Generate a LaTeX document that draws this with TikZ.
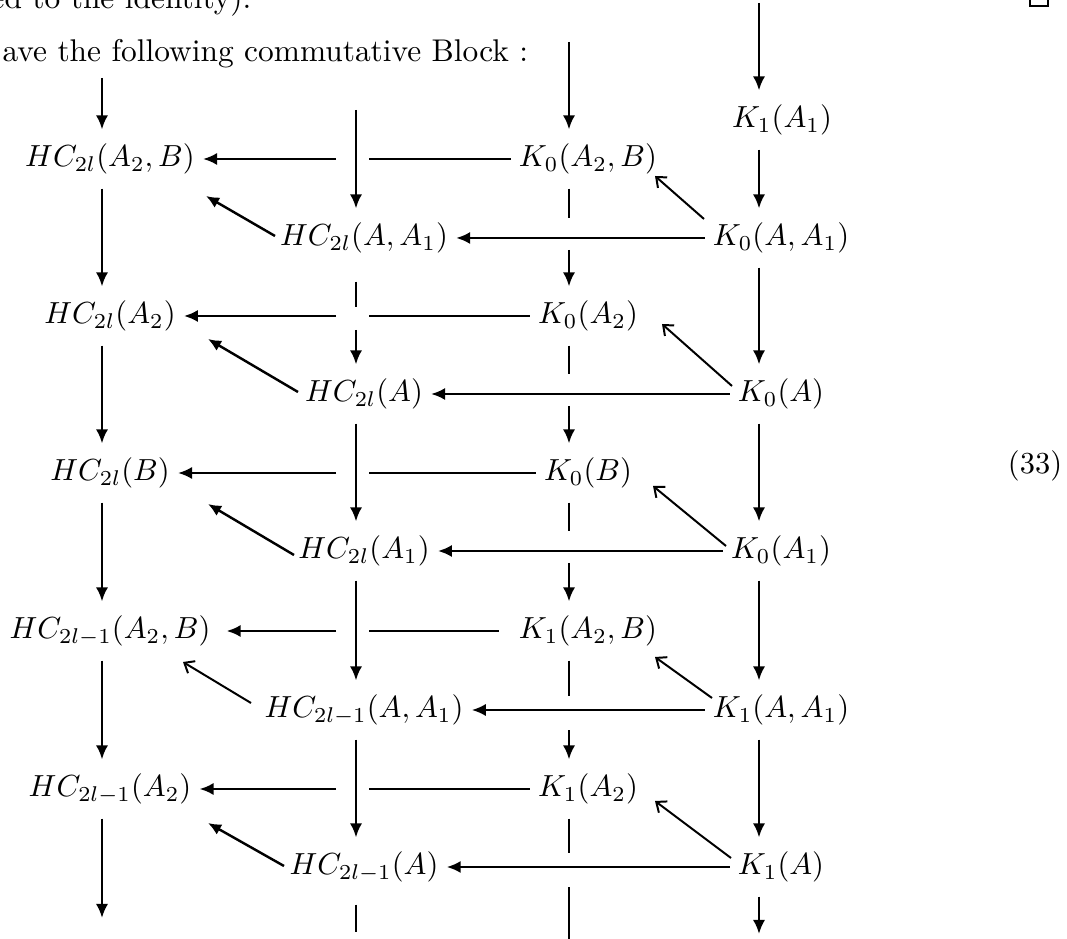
\documentclass[tikz,border=0pt]{standalone}
\usetikzlibrary{arrows.meta,calc}
\begin{document}
\begin{tikzpicture}[x=0.328pt,y=-0.328pt,
  m/.style={text height=7.5pt,text depth=2.5pt,inner ysep=4.5pt,inner xsep=2.5pt},
  ar/.style={line width=0.85pt,-{Latex[length=4.6pt,width=4pt]}},
  ln/.style={line width=0.85pt},
  dg/.style={line width=0.8pt,-{Latex[length=4.3pt,width=3.8pt]}},
  dk/.style={line width=0.65pt,-{Straight Barb[length=2.8pt,width=4.6pt]}}]
\useasboundingbox (0,0) rectangle (1067,939);
% text lines
\node[anchor=base east,inner sep=0,font=\fontsize{10.3}{12}\selectfont] (t1) at (252,9) {ed to the identity).};
\node[anchor=base west,inner sep=0,font=\fontsize{10.3}{12}\selectfont] (t2) at (2,62) {ave the following commutative Block :};
\draw[line width=0.5pt] (1030,-12) rectangle (1048,6);
\node (eq) at (1035,466) {(33)};
% column coordinates
\coordinate (xBL) at (102,0);
\coordinate (xFL) at (356,0);
\coordinate (xBR) at (569,0);
\coordinate (xFR) at (759,0);
\coordinate (gL) at (336,0);
\coordinate (gR) at (369,0);
% nodes
\node[m] (bl1) at (110,159) {$HC_{2l}(A_2,B)$};
\node[m] (bl2) at (110,316) {$HC_{2l}(A_2)$};
\node[m] (bl3) at (110,473) {$HC_{2l}(B)$};
\node[m] (bl4) at (110,631) {$HC_{2l-1}(A_2,B)$};
\node[m] (bl5) at (110,789) {$HC_{2l-1}(A_2)$};
\node[m] (fl1) at (364,238) {$HC_{2l}(A,A_1)$};
\node[m] (fl2) at (364,394) {$HC_{2l}(A)$};
\node[m] (fl3) at (364,551) {$HC_{2l}(A_1)$};
\node[m] (fl4) at (364,710) {$HC_{2l-1}(A,A_1)$};
\node[m] (fl5) at (364,867) {$HC_{2l-1}(A)$};
\node[m] (br1) at (588,159) {$K_0(A_2,B)$};
\node[m] (br2) at (588,316) {$K_0(A_2)$};
\node[m] (br3) at (588,473) {$K_0(B)$};
\node[m] (br4) at (588,631) {$K_1(A_2,B)$};
\node[m] (br5) at (588,789) {$K_1(A_2)$};
\node[m] (fr0) at (782,120) {$K_1(A_1)$};
\node[m] (fr1) at (781,238) {$K_0(A,A_1)$};
\node[m] (fr2) at (781,394) {$K_0(A)$};
\node[m] (fr3) at (781,551) {$K_0(A_1)$};
\node[m] (fr4) at (781,710) {$K_1(A,A_1)$};
\node[m] (fr5) at (781,867) {$K_1(A)$};
% free ends
\coordinate (blTop) at (102,78);
\coordinate (blBot) at (102,918);
\coordinate (flTop) at (356,110);
\coordinate (flBot) at (356,932);
\coordinate (brTop) at (569,42);
\coordinate (brBot) at (569,960);
\coordinate (frTop) at (759,3);
\coordinate (frBot) at (759,934);
% back-left column
\draw[ar] (blTop) -- (bl1.north -| xBL);
\draw[ar] (bl1.south -| xBL) -- (bl2.north -| xBL);
\draw[ar] (bl2.south -| xBL) -- (bl3.north -| xBL);
\draw[ar] (bl3.south -| xBL) -- (bl4.north -| xBL);
\draw[ar] (bl4.south -| xBL) -- (bl5.north -| xBL);
\draw[ar] (bl5.south -| xBL) -- (blBot);
% front-left column
\draw[ar] (flTop) -- (fl1.north -| xFL);
\draw[ln] ($(fl1.south -| xFL)+(0,14)$) -- ($(bl2.east -| xFL)+(0,-9)$);
\draw[ar] ($(bl2.east -| xFL)+(0,14)$) -- (fl2.north -| xFL);
\draw[ar] (fl2.south -| xFL) -- (fl3.north -| xFL);
\draw[ar] (fl3.south -| xFL) -- (fl4.north -| xFL);
\draw[ar] (fl4.south -| xFL) -- (fl5.north -| xFL);
\draw[ln] ($(fl5.south -| xFL)+(0,8)$) -- (flBot);
% back-right column (broken by front rows)
\draw[ar] (brTop) -- (br1.north -| xBR);
\draw[ln] (br1.south -| xBR) -- ($(fr1.west -| xBR)+(0,-20)$);
\draw[ar] ($(fr1.west -| xBR)+(0,12)$) -- (br2.north -| xBR);
\draw[ln] (br2.south -| xBR) -- ($(fr2.west -| xBR)+(0,-20)$);
\draw[ar] ($(fr2.west -| xBR)+(0,12)$) -- (br3.north -| xBR);
\draw[ln] (br3.south -| xBR) -- ($(fr3.west -| xBR)+(0,-20)$);
\draw[ar] ($(fr3.west -| xBR)+(0,12)$) -- (br4.north -| xBR);
\draw[ln] (br4.south -| xBR) -- ($(fr4.west -| xBR)+(0,-14)$);
\draw[ar] ($(fr4.west -| xBR)+(0,20)$) -- (br5.north -| xBR);
\draw[ln] (br5.south -| xBR) -- ($(fr5.west -| xBR)+(0,-14)$);
\draw[ar] ($(fr5.west -| xBR)+(0,20)$) -- (brBot);
% front-right column
\draw[ar] (frTop) -- (fr0.north -| xFR);
\draw[ar] (fr0.south -| xFR) -- (fr1.north -| xFR);
\draw[ar] (fr1.south -| xFR) -- (fr2.north -| xFR);
\draw[ar] (fr2.south -| xFR) -- (fr3.north -| xFR);
\draw[ar] (fr3.south -| xFR) -- (fr4.north -| xFR);
\draw[ar] (fr4.south -| xFR) -- (fr5.north -| xFR);
\draw[ar] (fr5.south -| xFR) -- (frBot);
% back horizontals (broken at front-left column)
\draw[ln] (br1.west) -- (br1.west -| gR);
\draw[ar] (br1.west -| gL) -- (bl1.east);
\draw[ln] (br2.west) -- (br2.west -| gR);
\draw[ar] (br2.west -| gL) -- (bl2.east);
\draw[ln] (br3.west) -- (br3.west -| gR);
\draw[ar] (br3.west -| gL) -- (bl3.east);
\draw[ln] ($(br4.west)+(-12,0)$) -- (br4.west -| gR);
\draw[ar] (br4.west -| gL) -- ($(bl4.east)+(8,0)$);
\draw[ln] (br5.west) -- (br5.west -| gR);
\draw[ar] (br5.west -| gL) -- (bl5.east);
% front horizontals
\draw[ar] (fr1.west) -- (fl1.east);
\draw[ar] (fr2.west) -- (fl2.east);
\draw[ar] (fr3.west) -- (fl3.east);
\draw[ar] (fr4.west) -- (fl4.east);
\draw[ar] (fr5.west) -- (fl5.east);
% HC diagonals
\draw[dg] ($(fl1)+(-89,-2)$) -- ($(bl1)+(96,37)$);
\draw[dg] ($(fl2)+(-66,-2)$) -- ($(bl2)+(98,23)$);
\draw[dg] ($(fl3)+(-70,4)$) -- ($(bl3)+(98,31)$);
\draw[dk] ($(fl4)+(-113,-7)$) -- ($(bl4)+(73,31)$);
\draw[dg] ($(fl5)+(-80,-1)$) -- ($(bl5)+(98,34)$);
% K diagonals
\draw[dk] ($(fr1)+(-77,-19)$) -- ($(br1)+(67,17)$);
\draw[dk] ($(fr2)+(-49,-8)$) -- ($(br2)+(74,8)$);
\draw[dk] ($(fr3)+(-55,-5)$) -- ($(br3)+(65,13)$);
\draw[dk] ($(fr4)+(-69,-12)$) -- ($(br4)+(67,26)$);
\draw[dk] ($(fr5)+(-50,-9)$) -- ($(br5)+(67,12)$);
\end{tikzpicture}
\end{document}
